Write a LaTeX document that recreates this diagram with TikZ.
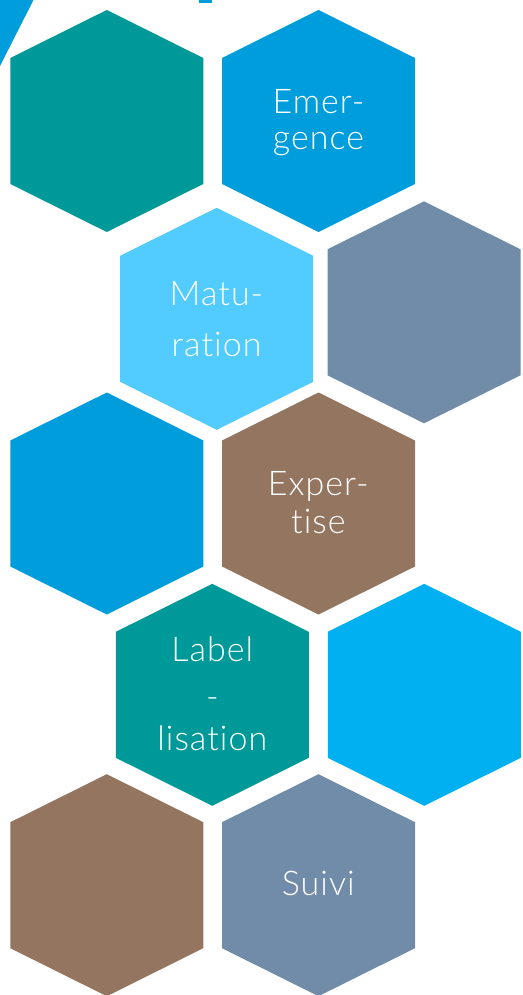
\documentclass[tikz,border=0pt]{standalone}
\usepackage{fontspec}
\setmainfont{Lato}[UprightFont={* Light}, Ligatures={NoCommon}, LetterSpace=3]
\definecolor{cteal}{HTML}{009999}
\definecolor{cblue}{HTML}{009DDC}
\definecolor{clight}{HTML}{52CBFF}
\definecolor{cgray}{HTML}{718CA8}
\definecolor{cbrown}{HTML}{937560}
\definecolor{cbright}{HTML}{00B0F0}
\tikzset{
  hexlabel/.style={text=white, font=\fontsize{34}{37}\selectfont, inner sep=0pt, anchor=base},
}
\newcommand\hexcell[3]{% #1 x, #2 y, #3 colour
  \fill[#3] (#1,#2) ++(0,-111) -- ++(96.5,48) -- ++(0,126) -- ++(-96.5,48) -- ++(-96.5,-48) -- ++(0,-126) -- cycle;}
\begin{document}
\begin{tikzpicture}[x=1pt,y=-1pt]
\useasboundingbox (0,0) rectangle (522,995);
\begin{scope}
\clip (0,0) rectangle (522,995);
% top decorations
\fill[cblue] (0,0) -- (33.5,0) -- (0,66) -- cycle;
\fill[cblue] (199,0) rectangle (212,2.7);
% hexagons
\hexcell{106.8}{121}{cteal}
\hexcell{318.5}{121}{cblue}
\hexcell{216.7}{318.8}{clight}
\hexcell{424}{312.3}{cgray}
\hexcell{106.8}{503.5}{cblue}
\hexcell{318.5}{503.5}{cbrown}
\hexcell{212.3}{694.8}{cteal}
\hexcell{424.3}{694.8}{cbright}
\hexcell{106.8}{885.2}{cbrown}
\hexcell{318.5}{885.2}{cgray}
\end{scope}
% labels
\node[hexlabel] (emerA) at (318.5,113.3) {Emer-};
\node[hexlabel] (emerB) at (318.5,150) {gence};
\node[hexlabel] (matA) at (216.5,305) {Matu-};
\node[hexlabel] (matB) at (216.5,356.7) {ration};
\node[hexlabel] (expA) at (318.3,495.7) {Exper-};
\node[hexlabel] (expB) at (318.3,533.3) {tise};
\node[hexlabel] (labA) at (212.3,661) {Label};
\node[hexlabel, anchor=center] (labB) at (212.3,703.3) {-};
\node[hexlabel] (labC) at (212.3,750) {lisation};
\node[hexlabel] (suivi) at (318.3,895) {Suivi};
\end{tikzpicture}
\end{document}
